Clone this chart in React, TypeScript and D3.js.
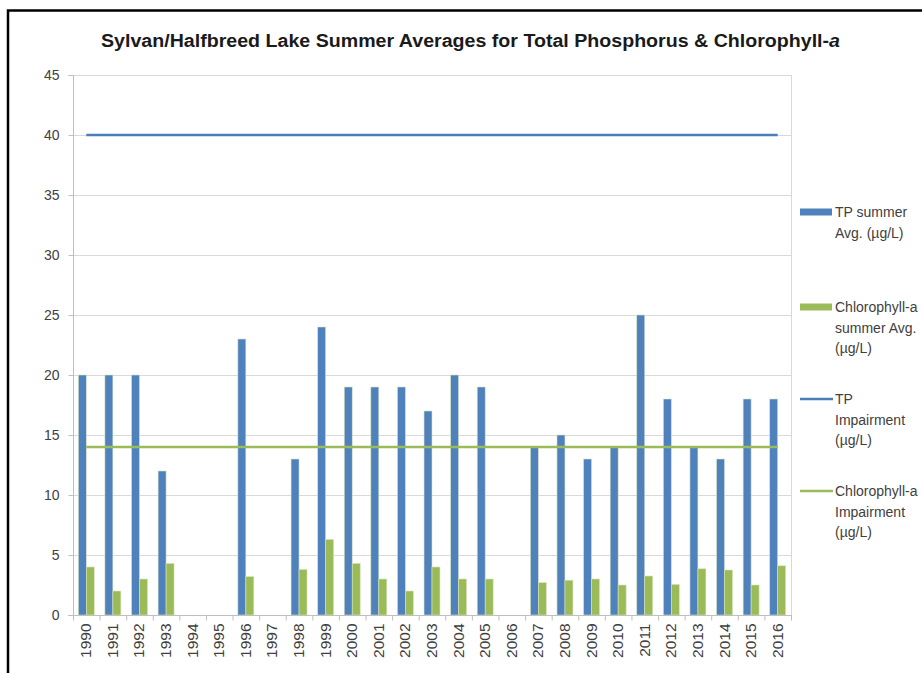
import React, { useEffect, useRef } from 'react';
import * as d3 from 'd3';

const years = ['1990', '1991', '1992', '1993', '1994', '1995', '1996', '1997', '1998', '1999', '2000', '2001', '2002', '2003',
  '2004', '2005', '2006', '2007', '2008', '2009', '2010', '2011', '2012', '2013', '2014', '2015', '2016'];

// null = no sampling that year
const tpAvg = [20, 20, 20, 12, null, null, 23, null, 13, 24, 19, 19, 19, 17,
  20, 19, null, 14, 15, 13, 14, 25, 18, 14, 13, 18, 18];

const chlAvg = [4, 2, 3, 4.3, null, null, 3.2, null, 3.8, 6.3, 4.3, 3, 2, 4,
  3, 3, null, 2.7, 2.9, 3, 2.5, 3.25, 2.55, 3.85, 3.75, 2.5, 4.1];

const tpImpairment = 40;
const chlImpairment = 14;

const yTicks = [0, 5, 10, 15, 20, 25, 30, 35, 40, 45];

const blue = '#4f81bd';
const green = '#9bbb59';
const font = '"Liberation Sans", Arial, sans-serif';

const App = () => {
  const svgRef = useRef<SVGSVGElement>(null);

  useEffect(() => {
    const w = 922;
    const h = 673;
    const left = 73;
    const right = 791;
    const top = 75;
    const bottom = 615;

    const svg = d3.select(svgRef.current).attr('width', w).attr('height', h);
    svg.selectAll('*').remove();

    // outer frame
    svg.append('rect')
      .attr('x', 8).attr('y', 10.5)
      .attr('width', 1000).attr('height', 1000)
      .attr('fill', 'white').attr('stroke', 'black').attr('stroke-width', 2.5);

    const x = d3.scaleBand().domain(years).range([left, right]);
    const y = d3.scaleLinear().domain([0, 45]).range([bottom, top]);
    const bw = x.bandwidth();
    const barW = bw * 0.3;

    // gridlines
    svg.append('g').selectAll('line')
      .data(yTicks.filter((d) => d > 0))
      .enter().append('line')
      .attr('x1', left).attr('x2', right)
      .attr('y1', (d) => y(d) + 0.5).attr('y2', (d) => y(d) + 0.5)
      .attr('stroke', '#d9d9d9');

    // plot area right edge
    svg.append('line')
      .attr('x1', right + 0.5).attr('x2', right + 0.5)
      .attr('y1', top).attr('y2', bottom)
      .attr('stroke', '#d9d9d9');

    // bars
    const bars = svg.append('g');
    bars.selectAll('rect.tp')
      .data(years.map((yr, i) => ({ yr, v: tpAvg[i] })).filter((d) => d.v !== null))
      .enter().append('rect')
      .attr('class', 'tp')
      .attr('x', (d) => x(d.yr)! + bw / 2 - barW)
      .attr('y', (d) => y(d.v as number))
      .attr('width', barW)
      .attr('height', (d) => bottom - y(d.v as number))
      .attr('fill', blue)
      .attr('stroke', '#d7e4bd').attr('stroke-width', 0.6);

    bars.selectAll('rect.chl')
      .data(years.map((yr, i) => ({ yr, v: chlAvg[i] })).filter((d) => d.v !== null))
      .enter().append('rect')
      .attr('class', 'chl')
      .attr('x', (d) => x(d.yr)! + bw / 2)
      .attr('y', (d) => y(d.v as number))
      .attr('width', barW)
      .attr('height', (d) => bottom - y(d.v as number))
      .attr('fill', green)
      .attr('stroke', '#d7e4bd').attr('stroke-width', 0.6);

    // impairment lines
    const line = d3.line<string>()
      .x((d) => x(d)! + bw / 2);
    const ends = [years[0], years[years.length - 1]];
    svg.append('path')
      .attr('d', line.y(() => y(tpImpairment))(ends))
      .attr('fill', 'none').attr('stroke', '#4a7ebb').attr('stroke-width', 2.5);
    svg.append('path')
      .attr('d', line.y(() => y(chlImpairment))(ends))
      .attr('fill', 'none').attr('stroke', green).attr('stroke-width', 2.5);

    // y axis
    const yAxis = d3.axisLeft(y).tickValues(yTicks).tickSize(5).tickPadding(9);
    const gy = svg.append('g')
      .attr('transform', `translate(${left + 0.5},0)`)
      .call(yAxis);
    gy.select('.domain').attr('stroke', '#bfbfbf').attr('d', `M-5,${top + 0.5}H0V${bottom}`);
    gy.selectAll('.tick line').attr('stroke', '#bfbfbf');
    gy.selectAll('.tick text')
      .attr('fill', '#404040').attr('font-size', 14).attr('font-family', font);

    // x axis
    const gx = svg.append('g').attr('transform', `translate(0,${bottom + 0.5})`);
    gx.append('line')
      .attr('x1', left - 5).attr('x2', right + 1)
      .attr('stroke', '#bfbfbf');
    gx.selectAll('line.tick')
      .data(years.concat(['end']))
      .enter().append('line')
      .attr('class', 'tick')
      .attr('x1', (d, i) => left + i * bw + 0.5)
      .attr('x2', (d, i) => left + i * bw + 0.5)
      .attr('y1', 0).attr('y2', 5)
      .attr('stroke', '#bfbfbf');
    gx.selectAll('text')
      .data(years)
      .enter().append('text')
      .attr('transform', (d) => `translate(${x(d)! + bw / 2 + 5},8) rotate(-90)`)
      .attr('text-anchor', 'end')
      .attr('font-size', 15.5).attr('font-family', font).attr('fill', '#404040')
      .text((d) => d);

    // title
    const title = svg.append('text')
      .attr('x', 101).attr('y', 47)
      .attr('font-size', 18).attr('font-weight', 'bold').attr('font-family', font)
      .attr('fill', '#1a1a1a')
      .attr('textLength', 739).attr('lengthAdjust', 'spacingAndGlyphs');
    title.append('tspan').text('Sylvan/Halfbreed Lake Summer Averages for Total Phosphorus & Chlorophyll-');
    title.append('tspan').attr('font-style', 'italic').text('a');

    // legend
    const legend = [
      { kind: 'bar', color: blue, y: 212, lines: ['TP summer', 'Avg. (µg/L)'] },
      { kind: 'bar', color: green, y: 307, lines: ['Chlorophyll-a', 'summer Avg.', '(µg/L)'] },
      { kind: 'line', color: '#4a7ebb', y: 399, lines: ['TP', 'Impairment', '(µg/L)'] },
      { kind: 'line', color: green, y: 491, lines: ['Chlorophyll-a', 'Impairment', '(µg/L)'] },
    ];
    const lg = svg.append('g');
    legend.forEach((item) => {
      if (item.kind === 'bar') {
        lg.append('rect')
          .attr('x', 800).attr('y', item.y - 3.5)
          .attr('width', 32).attr('height', 7)
          .attr('fill', item.color);
      } else {
        lg.append('line')
          .attr('x1', 800).attr('x2', 833)
          .attr('y1', item.y).attr('y2', item.y)
          .attr('stroke', item.color).attr('stroke-width', 2.5);
      }
      item.lines.forEach((t, i) => {
        lg.append('text')
          .attr('x', 835).attr('y', item.y + 5 + i * 20.5)
          .attr('font-size', 14).attr('font-family', font).attr('fill', '#404040')
          .text(t);
      });
    });
  }, []);

  return (
    <svg ref={svgRef} style={{ position: 'absolute', left: 0, top: 0 }}></svg>
  );
};

export default App;
